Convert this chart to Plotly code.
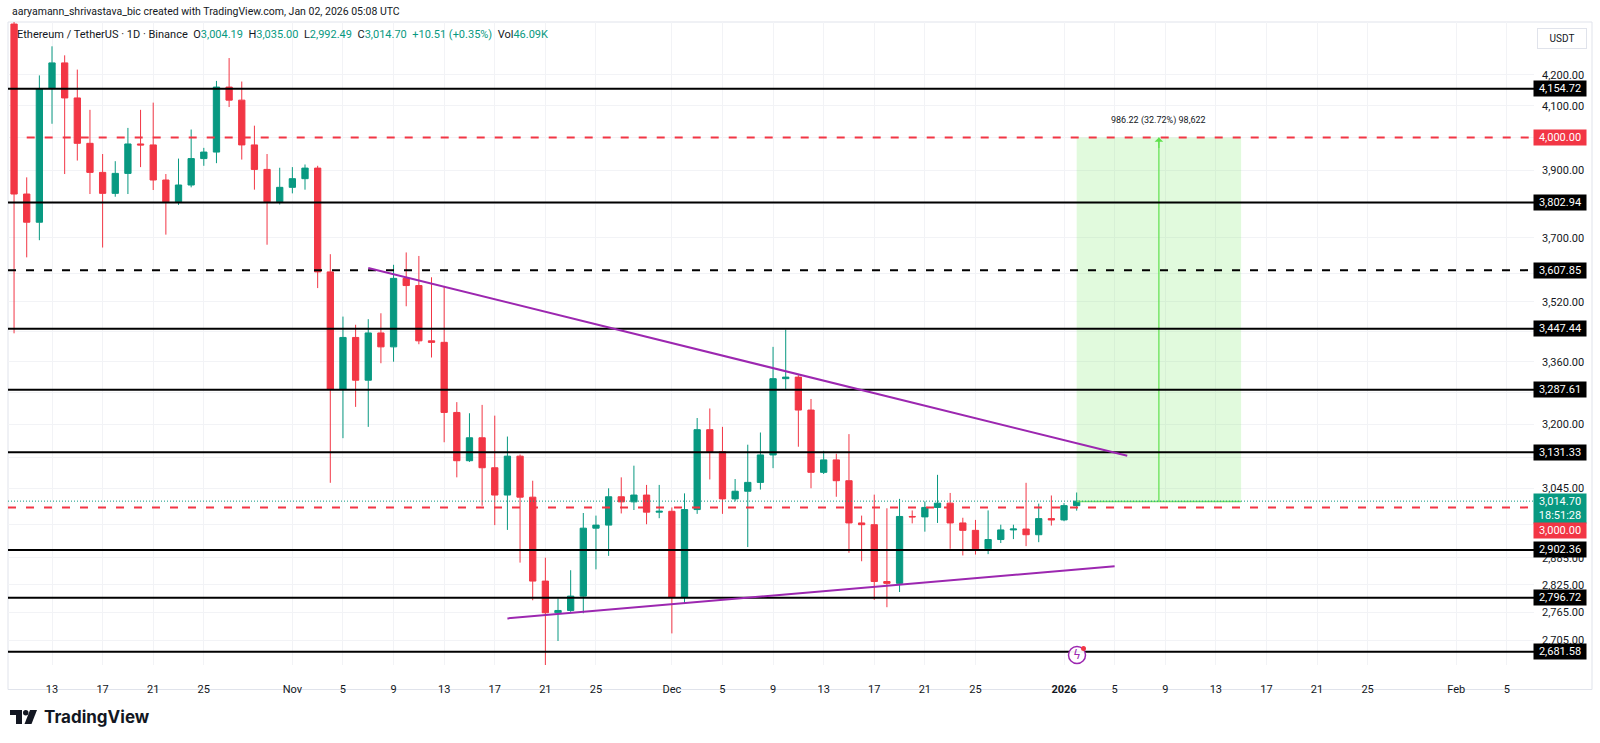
import math
import pandas as pd
import plotly.graph_objects as go

# ---------------- data ----------------
dates = pd.date_range("2025-10-10", "2026-01-02", freq="D")

opens = [4369, 3828, 3745, 4155, 4239, 4125, 3982, 3893, 3830, 3890, 3980, 3977, 3870, 3805, 3855, 3935, 3955, 4160, 4118, 3977, 3902, 3805,
         3848, 3874, 3906, 3603, 3288, 3424, 3312, 3436, 3399, 3585, 3565, 3415, 3411, 3230, 3111, 3167, 3094, 3029, 3122, 3024, 2833, 2764, 2769, 2800, 2952, 2959, 3025, 3013, 3029, 2989,
         2991, 2798, 2995, 3187, 3133, 3020, 3038, 3059, 3125, 3316, 3320, 3236, 3083, 3113, 3063, 2964, 2960, 2832, 2828, 2979, 2978, 3000, 3010, 2964, 2947, 2905, 2926, 2948, 2950, 2937, 2974,
         2971, 3004.19]
highs = [4393, 3878, 4198, 4294, 4264, 4217, 4087, 3949, 3927, 4030, 4087, 4110, 3888, 3935, 4025, 3968, 4180, 4255, 4178, 4037, 3949, 3907,
         3909, 3917, 3913, 3653, 3480, 3458, 3473, 3489, 3623, 3658, 3648, 3588, 3564, 3256, 3228, 3249, 3222, 3170, 3126, 3063, 2885, 2795, 2857, 2987, 2981, 3045, 3071, 3099, 3053, 3053,
         3000, 3033, 3216, 3240, 3194, 3067, 3150, 3180, 3399, 3445, 3325, 3264, 3135, 3128, 3176, 2981, 3030, 2998, 3020, 2993, 3014, 3077, 3034, 2976, 2971, 2993, 2960, 2960, 3058, 3009, 3028,
         3010, 3035.00]
lows = [3435, 3644, 3693, 4043, 3888, 3929, 3828, 3672, 3820, 3828, 3909, 3840, 3709, 3796, 3848, 3913, 3921, 4096, 3932, 3841, 3680, 3797,
        3830, 3841, 3558, 3058, 3166, 3244, 3194, 3356, 3360, 3508, 3406, 3371, 3156, 3071, 3108, 3004, 2959, 2948, 2874, 2791, 2623, 2704, 2766, 2763, 2859, 2889, 2986, 2994, 2961, 2975,
        2720, 2785, 2985, 3066, 2985, 3014, 2909, 3042, 3093, 3289, 3145, 3045, 3079, 3025, 2896, 2877, 2792, 2776, 2809, 2963, 2944, 2964, 2905, 2890, 2892, 2893, 2918, 2927, 2911, 2920, 2958,
        2968, 2992.49]
closes = [3828, 3745, 4155, 4239, 4125, 3982, 3893, 3830, 3890, 3980, 3977, 3870, 3805, 3855, 3935, 3955, 4160, 4118, 3977, 3902, 3805, 3848,
          3874, 3906, 3603, 3288, 3424, 3312, 3436, 3399, 3585, 3565, 3415, 3411, 3230, 3111, 3167, 3094, 3029, 3122, 3024, 2833, 2764, 2769, 2800, 2952, 2959, 3025, 3013, 3029, 2989, 2991,
          2798, 2995, 3187, 3133, 3020, 3038, 3059, 3125, 3316, 3320, 3236, 3083, 3113, 3063, 2964, 2960, 2832, 2828, 2979, 2978, 3000, 3010, 2964, 2947, 2905, 2926, 2948, 2950, 2937, 2974, 2971,
          3004.19, 3014.70]

solid_levels = [4154.72, 3802.94, 3447.44, 3287.61, 3131.33, 2902.36, 2796.72, 2681.58]
dashed_level = 3607.85
red_levels = [4000.00, 3000.00]
last_price = 3014.70
target_low = 3013.78
target_high = 4000.00

upper_trend_x = ["2025-11-07 00:00", "2026-01-06 00:00"]
upper_trend_y = [3614, 3123]
lower_trend_x = ["2025-11-18 00:00", "2026-01-05 00:00"]
lower_trend_y = [2752, 2866]

box_x = ["2026-01-02 00:00", "2026-01-15 00:00"]
arrow_x = "2026-01-08 12:00"

ytick_vals = [4200, 4100, 4000, 3900, 3800, 3700, 3600, 3520, 3440, 3360, 3280, 3200, 3120, 3045, 2960, 2885, 2825, 2765, 2705]
ytick_hidden = [4000, 3800, 3600, 3440, 3280, 3120, 2960]
xtick_dates = ["2025-10-13", "2025-10-17", "2025-10-21", "2025-10-25", "2025-11-01", "2025-11-05", "2025-11-09", "2025-11-13",
               "2025-11-17", "2025-11-21", "2025-11-25", "2025-12-01", "2025-12-05", "2025-12-09", "2025-12-13", "2025-12-17",
               "2025-12-21", "2025-12-25", "2026-01-01", "2026-01-05", "2026-01-09", "2026-01-13", "2026-01-17", "2026-01-21",
               "2026-01-25", "2026-02-01", "2026-02-05"]
xtick_text = ["13", "17", "21", "25", "Nov", "5", "9", "13", "17", "21", "25", "Dec", "5", "9", "13", "17", "21", "25",
              "<b>2026</b>", "5", "9", "13", "17", "21", "25", "Feb", "5"]

# ---------------- layout geometry ----------------
W, H = 1600, 743
L, R, T, B = 8, 66, 22, 78
PW, PH = W - L - R, H - T - B
X0, X1 = "2025-10-09 12:30", "2026-02-07 03:40"
YTOP, YBOT = 4376.0, 2654.0

def px(x):
    return (x - L) / PW

def py(y):
    return (H - B - y) / PH

UP, DOWN, TXT = "#089981", "#F23645", "#131722"
FONT = "Roboto, Arial, sans-serif"
NOHOVER = dict(hoverinfo="skip", showlegend=False)

fig = go.Figure()

# price range tool (target box)
fig.add_trace(go.Scatter(
    x=[box_x[0], box_x[1], box_x[1], box_x[0], box_x[0]],
    y=[target_low, target_low, target_high, target_high, target_low],
    fill="toself", fillcolor="rgba(120,230,100,0.22)", line=dict(width=0), mode="lines", **NOHOVER))
fig.add_trace(go.Scatter(x=box_x, y=[target_low, target_low], mode="lines",
                         line=dict(color="#7be36a", width=1.5), **NOHOVER))
fig.add_trace(go.Scatter(x=[arrow_x, arrow_x], y=[target_low, target_high], mode="lines",
                         line=dict(color="#5ee04d", width=1.2), **NOHOVER))

# current price dotted line
fig.add_trace(go.Scatter(x=[X0, X1], y=[last_price, last_price], mode="lines",
                         line=dict(color=UP, width=1, dash="1px,2px"), **NOHOVER))

# candles
fig.add_trace(go.Candlestick(
    x=dates, open=opens, high=highs, low=lows, close=closes,
    increasing=dict(line=dict(color=UP, width=1), fillcolor=UP),
    decreasing=dict(line=dict(color=DOWN, width=1), fillcolor=DOWN),
    whiskerwidth=0, **NOHOVER))

# horizontal levels
for lv in solid_levels:
    fig.add_trace(go.Scatter(x=[X0, X1], y=[lv, lv], mode="lines",
                             line=dict(color="#000000", width=2), **NOHOVER))
fig.add_trace(go.Scatter(x=[X0, X1], y=[dashed_level, dashed_level], mode="lines",
                         line=dict(color="#000000", width=2, dash="8px,10px"), **NOHOVER))
fig.add_trace(go.Scatter(x=["2025-10-11", X1], y=[red_levels[0]] * 2, mode="lines",
                         line=dict(color=DOWN, width=2, dash="8px,10px"), **NOHOVER))
fig.add_trace(go.Scatter(x=[X0, X1], y=[red_levels[1]] * 2, mode="lines",
                         line=dict(color=DOWN, width=2, dash="8px,10px"), **NOHOVER))

# trend lines
fig.add_trace(go.Scatter(x=upper_trend_x, y=upper_trend_y, mode="lines",
                         line=dict(color="#9C27B0", width=2), **NOHOVER))
fig.add_trace(go.Scatter(x=lower_trend_x, y=lower_trend_y, mode="lines",
                         line=dict(color="#9C27B0", width=2), **NOHOVER))

annotations = []
# range tool arrow head + label
annotations.append(dict(x=arrow_x, y=math.log10(target_high), xref="x", yref="y", text="",
                        showarrow=True, arrowhead=1, arrowsize=1.2, arrowwidth=1.2, arrowcolor="#5ee04d",
                        ax=0, ay=12, standoff=0))
annotations.append(dict(x=arrow_x, y=math.log10(target_high), xref="x", yref="y",
                        text="986.22 (32.72%) 98,622", showarrow=False, yshift=17,
                        font=dict(size=9, color=TXT, family=FONT)))

def price_box(val, bg, text=None, shift=0, h=13, pad=1):
    annotations.append(dict(
        x=px(1560), xref="paper", y=math.log10(val), yref="y", xanchor="center", yanchor="middle",
        text=text or f"{val:,.2f}", showarrow=False, bgcolor=bg, width=52 - 2 * pad, height=h, borderpad=pad,
        font=dict(size=11, color="#ffffff", family=FONT), yshift=shift))

for lv in solid_levels + [dashed_level]:
    price_box(lv, "#000000")
price_box(red_levels[0], DOWN)
price_box(last_price, UP, text="3,014.70<br>18:51:28", shift=-7, h=29, pad=0)
price_box(red_levels[1], DOWN, shift=-23)

# header texts
annotations.append(dict(
    x=px(10), y=py(11), xref="paper", yref="paper", xanchor="left", yanchor="middle", showarrow=False,
    text="aaryamann_shrivastava_bic created with TradingView.com, Jan 02, 2026 05:08 UTC",
    font=dict(size=10.5, color=TXT, family=FONT)))
g = lambda s: f"<span style='color:{UP}'>{s}</span>"
annotations.append(dict(
    x=px(15), y=py(35), xref="paper", yref="paper", xanchor="left", yanchor="middle", showarrow=False,
    text=("Ethereum / TetherUS · 1D · Binance  O" + g("3,004.19") + "  H" + g("3,035.00") + "  L" + g("2,992.49")
          + "  C" + g("3,014.70") + "  " + g("+10.51 (+0.35%)") + "  Vol" + g("46.09K")),
    font=dict(size=11, color=TXT, family=FONT)))
annotations.append(dict(
    x=px(1562), y=py(38.5), xref="paper", yref="paper", xanchor="center", yanchor="middle", showarrow=False,
    text="USDT", bordercolor="#E0E3EB", borderwidth=1, borderpad=4, bgcolor="#ffffff", width=40,
    font=dict(size=10, color=TXT, family=FONT)))
# logo text
annotations.append(dict(
    x=px(42), y=py(717), xref="paper", yref="paper", xanchor="left", yanchor="middle", showarrow=False,
    text="<b>TradingView</b>", font=dict(size=17, color=TXT, family="Inter, Roboto, sans-serif")))
# events icon glyph
annotations.append(dict(
    x=px(1077), y=py(655), xref="paper", yref="paper", xanchor="center", yanchor="middle", showarrow=False,
    text="ϟ", font=dict(size=12, color="#9C27B0", family="DejaVu Sans")))

shapes = [
    # chart frame
    dict(type="rect", xref="paper", yref="paper", x0=px(8), x1=px(1592), y0=py(689.5), y1=py(22),
         line=dict(color="#E0E3EB", width=1), fillcolor="rgba(0,0,0,0)", layer="below"),
    # events icon
    dict(type="circle", xref="paper", yref="paper", x0=px(1068.5), x1=px(1085.5), y0=py(663.5), y1=py(646.5),
         line=dict(color="#9C27B0", width=1.5), fillcolor="rgba(255,255,255,0.95)"),
    dict(type="circle", xref="paper", yref="paper", x0=px(1081), x1=px(1086), y0=py(651), y1=py(646),
         line=dict(width=0), fillcolor=DOWN),
    # TradingView logo mark
    dict(type="rect", xref="paper", yref="paper", x0=px(10), x1=px(22), y0=py(715), y1=py(710),
         line=dict(width=0), fillcolor=TXT),
    dict(type="rect", xref="paper", yref="paper", x0=px(16), x1=px(22), y0=py(724), y1=py(710),
         line=dict(width=0), fillcolor=TXT),
    dict(type="circle", xref="paper", yref="paper", x0=px(23), x1=px(28.5), y0=py(715.5), y1=py(710),
         line=dict(width=0), fillcolor=TXT),
    dict(type="path", xref="paper", yref="paper",
         path=f"M {px(30)},{py(710)} L {px(37)},{py(710)} L {px(31.5)},{py(724)} L {px(24.5)},{py(724)} Z",
         line=dict(width=0), fillcolor=TXT),
]

fig.update_layout(
    width=W, height=H, margin=dict(l=L, r=R, t=T, b=B, pad=0),
    paper_bgcolor="#ffffff", plot_bgcolor="#ffffff", showlegend=False,
    boxgap=0.29,
    annotations=annotations, shapes=shapes,
    xaxis=dict(type="date", range=[X0, X1], rangeslider=dict(visible=False),
               tickvals=xtick_dates, ticktext=xtick_text, ticks="", ticklabelstandoff=16,
               showgrid=True, gridcolor="#F2F3F6", gridwidth=1, zeroline=False,
               showline=False, tickfont=dict(size=11, color=TXT, family=FONT)),
    yaxis=dict(type="log", side="right", range=[math.log10(YBOT), math.log10(YTOP)],
               tickvals=ytick_vals,
               ticktext=["" if v in ytick_hidden else f"{v:,.2f}" for v in ytick_vals], ticks="",
               ticklabelstandoff=7, showgrid=True, gridcolor="#F2F3F6", gridwidth=1,
               zeroline=False, showline=False,
               tickfont=dict(size=11, color=TXT, family=FONT)),
    font=dict(family=FONT, color=TXT),
)

fig.write_html("out.html", config={"displayModeBar": False},
               post_script="document.body.style.margin='0';document.body.style.overflow='hidden';")
